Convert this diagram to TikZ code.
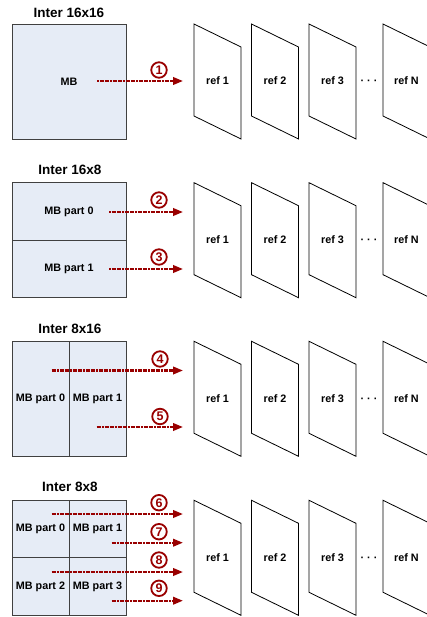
\documentclass[tikz,border=0pt]{standalone}
\usepackage{fontspec}
\setmainfont{Liberation Sans}
\usetikzlibrary{arrows.meta}
\definecolor{mbfill}{HTML}{E6ECF6}
\definecolor{mbline}{HTML}{404040}
\definecolor{arr}{HTML}{990000}
\tikzset{
  part/.style={draw=mbline, fill=mbfill, line width=0.9pt, inner sep=0pt,
    font=\bfseries\fontsize{10.8}{12}\selectfont},
  ttl/.style={font=\bfseries\fontsize{13.5}{15}\selectfont, inner sep=0pt},
  mv/.style={arr, line width=2.2pt, dash pattern=on 2pt off 0.6pt,
    -{Triangle[length=10pt,width=7.5pt]}},
  num/.style={circle, draw=arr, text=arr, line width=1.8pt, minimum size=15.5pt,
    inner sep=0pt, font=\bfseries\fontsize{12.5}{12.5}\selectfont},
  plane/.style={draw=black, line width=0.8pt, fill=white},
  reflbl/.style={font=\bfseries\fontsize{10.8}{12}\selectfont, inner sep=0pt},
}
\begin{document}
\begin{tikzpicture}[x=1pt,y=-1pt]
\useasboundingbox (0,0) rectangle (426,617);

% reference planes for each section
\foreach \s/\y in {1/24, 2/182.7, 3/341.3, 4/500.3}{
  \foreach \k/\xl/\t in {1/194/ref 1, 2/251.5/ref 2, 3/309/ref 3, N/383/ref N}{
    \draw[plane] (\xl,\y) -- (\xl+47,\y+23) -- (\xl+47,\y+115) -- (\xl,\y+92) -- cycle;
    \node[reflbl] (r\s-\k) at (\xl+23.5,\y+57) {\t};
  }
  \node[reflbl] (dots\s) at (369,\y+58.5) {· · ·};
}

% Section 1: Inter 16x16
\node[ttl] (t1) at (69,12.5) {Inter 16x16};
\node[part, minimum width=114pt, minimum height=115pt] (mb) at (69,81.5) {MB};
\coordinate (s1) at (97,81);
\coordinate (e1) at (183,81);
\draw[mv] (s1) -- (e1);
\node[num] (n1) at (159,70) {1};

% Section 2: Inter 16x8
\node[ttl] (t2) at (70,169.5) {Inter 16x8};
\node[part, minimum width=114pt, minimum height=57.6pt] (p20) at (69,211.5) {MB part 0};
\node[part, minimum width=114pt, minimum height=57.4pt] (p21) at (69,269) {MB part 1};
\coordinate (s2) at (109,212);
\coordinate (e2) at (183,212);
\coordinate (s3) at (109,269);
\coordinate (e3) at (183,269);
\draw[mv] (s2) -- (e2);
\draw[mv] (s3) -- (e3);
\node[num] (n2) at (159,200) {2};
\node[num] (n3) at (159,257) {3};

% Section 3: Inter 8x16
\node[ttl] (t3) at (70,328.5) {Inter 8x16};
\node[part, minimum width=57pt, minimum height=115.4pt] (p30) at (40.5,399) {MB part 0};
\node[part, minimum width=57pt, minimum height=115.4pt] (p31) at (97.5,399) {MB part 1};
\coordinate (s4) at (51.7,370.5);
\coordinate (e4) at (183,370.5);
\coordinate (s5) at (96.7,427);
\coordinate (e5) at (183,427);
\draw[mv] (s4) -- (e4);
\draw[mv] (s5) -- (e5);
\node[num] (n4) at (160,359) {4};
\node[num] (n5) at (160,416.5) {5};

% Section 4: Inter 8x8
\node[ttl] (t4) at (70,487) {Inter 8x8};
\node[part, minimum width=57pt, minimum height=57pt] (p40) at (40.5,529) {MB part 0};
\node[part, minimum width=57pt, minimum height=57pt] (p41) at (97.5,529) {MB part 1};
\node[part, minimum width=57pt, minimum height=58.4pt] (p42) at (40.5,586.7) {MB part 2};
\node[part, minimum width=57pt, minimum height=58.4pt] (p43) at (97.5,586.7) {MB part 3};
\coordinate (s6) at (51.7,514);
\coordinate (e6) at (183,514);
\coordinate (s7) at (111.7,542.7);
\coordinate (e7) at (183,542.7);
\coordinate (s8) at (51.7,572);
\coordinate (e8) at (183,572);
\coordinate (s9) at (111.7,600.7);
\coordinate (e9) at (183,600.7);
\draw[mv] (s6) -- (e6);
\draw[mv] (s7) -- (e7);
\draw[mv] (s8) -- (e8);
\draw[mv] (s9) -- (e9);
\node[num] (n6) at (159,502.7) {6};
\node[num] (n7) at (159,531.7) {7};
\node[num] (n8) at (159,560) {8};
\node[num] (n9) at (159,588.3) {9};
\end{tikzpicture}
\end{document}
